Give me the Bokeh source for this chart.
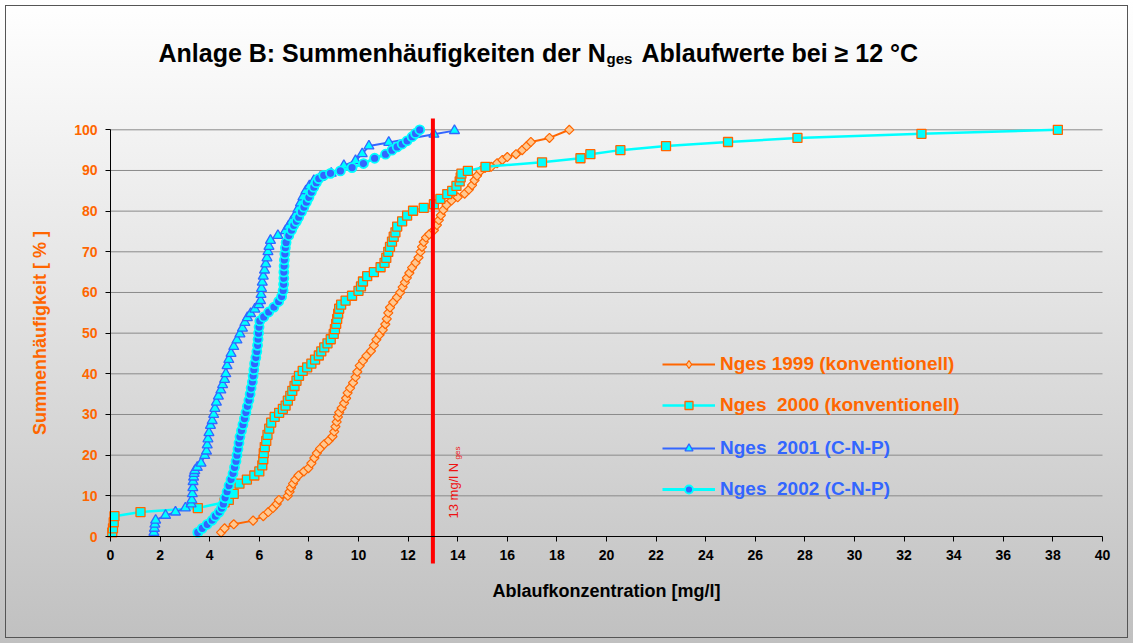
from bokeh.plotting import figure
from bokeh.models import Range1d, FixedTicker, Legend, LegendItem
from bokeh.core.properties import value
from bokeh.embed import file_html
from bokeh.resources import INLINE
import math

# ---------------- data ----------------
x_ticks = [0, 2, 4, 6, 8, 10, 12, 14, 16, 18, 20, 22, 24, 26, 28, 30, 32, 34, 36, 38, 40]
y_ticks = [0, 10, 20, 30, 40, 50, 60, 70, 80, 90, 100]
threshold = 13

x1999 = [4.46, 4.60, 4.97, 5.75, 6.16, 6.36, 6.55, 6.70, 6.79, 7.15, 7.22, 7.28, 7.36, 7.45, 7.58,
         7.80, 7.98, 8.10, 8.22, 8.32, 8.45, 8.62, 8.80, 8.95, 9.02, 9.07, 9.12, 9.17, 9.22, 9.32,
         9.42, 9.50, 9.56, 9.66, 9.78, 9.88, 9.95, 10.05, 10.18, 10.32, 10.50, 10.62, 10.72, 10.85,
         10.98, 11.08, 11.14, 11.20, 11.27, 11.40, 11.55, 11.68, 11.78, 11.87, 11.95, 12.05, 12.16,
         12.30, 12.42, 12.50, 12.56, 12.63, 12.72, 12.85, 13.04, 13.16, 13.24, 13.32, 13.42, 13.55,
         13.75, 14.00, 14.28, 14.45, 14.58, 14.68, 14.78, 14.92, 15.10, 15.35, 15.59, 15.80, 16.00,
         16.35, 16.60, 16.78, 16.95, 17.70, 18.50]
y1999 = [1, 2, 3, 3.9, 5, 6, 7, 8, 9, 10, 11, 12, 13, 14, 15,
         16, 16.8, 18, 19.3, 20.5, 21.6, 22.7, 23.6, 24.6, 25.8, 27, 28.2, 29.4, 30.5, 31.6,
         32.8, 34, 35.3, 36.5, 37.8, 39.2, 40.5, 42, 43.2, 44.4, 45.6, 47, 48.4, 49.6,
         50.8, 52.2, 53.5, 55, 56.3, 57.6, 58.8, 60, 61.3, 62.5, 63.6, 64.8, 66.1,
         67.3, 68.6, 70, 71.2, 72.4, 73.5, 74.3, 75.3, 76.6, 77.8, 79, 80.3, 81.5,
         82.6, 83.4, 84.3, 85.3, 86.4, 87.6, 88.7, 89.9, 90.6, 90.9, 91.8, 92.6, 93.3,
         94, 95, 96, 97, 98, 100]

x2000 = [0.07, 0.10, 0.13, 0.16, 1.21, 3.52, 4.60, 4.77, 4.97, 5.20, 5.50, 5.80, 6.00, 6.12, 6.16,
         6.18, 6.22, 6.28, 6.33, 6.40, 6.48, 6.62, 6.80, 6.95, 7.06, 7.15, 7.25, 7.33, 7.42, 7.50,
         7.60, 7.75, 7.93, 8.10, 8.25, 8.40, 8.50, 8.62, 8.75, 8.88, 9.00, 9.05, 9.10, 9.14, 9.18,
         9.22, 9.30, 9.48, 9.74, 10.00, 10.10, 10.18, 10.35, 10.62, 10.89, 11.05, 11.12, 11.20,
         11.27, 11.35, 11.42, 11.49, 11.56, 11.76, 11.96, 12.20, 12.63, 13.04, 13.30, 13.58, 13.78,
         13.95, 14.08, 14.12, 14.15, 14.41, 15.12, 17.40, 18.95, 19.35, 20.56, 22.40, 24.90, 27.70,
         32.70, 38.20]
y2000 = [1, 2, 3.5, 5, 6, 7, 8.4, 9, 10.5, 13, 14, 15, 16, 17.5, 19,
         20.5, 22, 23.5, 25, 26.5, 28, 29.4, 30.4, 31.4, 32.2, 33.4, 34.6, 35.8, 37, 38.3,
         39.5, 40.7, 41.6, 42.5, 43.5, 44.5, 45.5, 46.5, 47.5, 48.5, 49.8, 51, 52.3, 53.5, 54.8,
         56, 57, 58, 59.2, 60.4, 61.5, 62.7, 64, 65, 66.2, 67.3, 68.5, 70,
         71.2, 72.5, 73.7, 74.8, 76.2, 77.5, 78.9, 80.1, 80.8, 81.7, 83, 84.2, 85,
         86.2, 87.3, 88.3, 89.2, 89.9, 90.9, 92, 93, 94, 95, 96, 97, 98,
         99, 100]

x2001 = [1.75, 1.77, 1.79, 1.82, 2.22, 2.62, 3.02, 3.25, 3.28, 3.30, 3.32, 3.33, 3.35, 3.37, 3.40,
         3.50, 3.65, 3.80, 3.87, 3.90, 3.93, 3.97, 4.03, 4.10, 4.16, 4.21, 4.27, 4.35, 4.45, 4.52,
         4.60, 4.65, 4.70, 4.77, 4.86, 4.97, 5.10, 5.22, 5.32, 5.42, 5.52, 5.65, 5.82, 5.98, 6.05,
         6.07, 6.09, 6.12, 6.16, 6.21, 6.26, 6.31, 6.35, 6.39, 6.45, 6.75, 7.06, 7.18, 7.30, 7.45,
         7.56, 7.66, 7.76, 7.88, 8.02, 8.20, 8.45, 8.90, 9.41, 9.88, 10.15, 10.42, 11.22, 13.04,
         13.87]
y2001 = [1, 2, 3, 4, 5.2, 6, 7, 8, 9, 10.5, 12, 13.5, 14.6, 15.5, 16.2,
         17, 18, 19.9, 21, 22.5, 24, 25.5, 27.3, 28.5, 30, 31.5, 33, 34.5, 36, 37.3,
         38.6, 40, 42, 43.5, 45, 46.7, 48.3, 49.8, 51.2, 52.6, 53.8, 54.8, 55.9, 57, 58,
         59.5, 61, 62.5, 64, 65.5, 67, 68.5, 70, 71.3, 72.8, 74, 75.2, 76.3, 77.5, 79,
         80.5, 82, 83.5, 85, 86.2, 87.5, 88.3, 89.3, 91.2, 92.4, 94.1, 96, 96.9, 98.9,
         99.8]

x2002 = [3.52, 3.70, 3.90, 4.10, 4.23, 4.38, 4.48, 4.55, 4.62, 4.70, 4.78, 4.86, 4.94, 5.00, 5.06,
         5.10, 5.14, 5.18, 5.22, 5.28, 5.34, 5.40, 5.46, 5.52, 5.58, 5.63, 5.67, 5.72, 5.75, 5.78,
         5.81, 5.86, 5.90, 5.93, 5.95, 5.97, 5.99, 6.02, 6.18, 6.38, 6.59, 6.78, 6.90, 6.96, 6.98,
         6.99, 6.99, 7.00, 7.01, 7.03, 7.05, 7.08, 7.19, 7.30, 7.39, 7.50, 7.59, 7.70, 7.80, 7.90,
         8.00, 8.10, 8.20, 8.30, 8.40, 8.60, 8.87, 9.27, 9.74, 10.20, 10.65, 11.09, 11.35, 11.56,
         11.76, 11.96, 12.16, 12.30, 12.47]
y2002 = [1, 2, 3, 4, 5, 6, 7, 8, 9.5, 11, 12.5, 14, 15.5, 17, 18.5,
         20, 21.5, 23, 24.5, 26, 27.5, 29, 30.5, 32, 33.5, 35, 36.5, 38, 39.5, 41,
         42.5, 44, 45.5, 47, 48.5, 50, 51.5, 53, 54, 55.2, 56.4, 57.8, 59, 60.5, 62,
         63.5, 65, 66.5, 68, 69.5, 71, 72.3, 74, 75.3, 76.5, 77.5, 78.5, 79.8, 81, 82.2,
         83.4, 84.7, 85.9, 87, 88, 88.8, 89.3, 89.9, 90.7, 91.7, 93, 94, 95, 95.8,
         96.5, 97.3, 98.3, 99.1, 100]

labels = ["Nges 1999 (konventionell)", "Nges\u00a0 2000 (konventionell)",
          "Nges\u00a0 2001 (C-N-P)", "Nges\u00a0 2002 (C-N-P)"]

# ---------------- styling / geometry ----------------
FONT = "Liberation Sans"
ORANGE = "#ff6600"
BLUE = "#3366ff"
CYAN = "#00ffff"
PEACH = "#ffc890"
W, H = 1133, 643
PX_X0, PX_X40 = 110.0, 1102.0       # page px of x=0 and x=40
PY_Y0, PY_Y100 = 536.0, 129.3       # page px of y=0 and y=100
SX = (PX_X40 - PX_X0) / 40.0
SY = (PY_Y0 - PY_Y100) / 100.0


def X(px):
    return (px - PX_X0) / SX


def Y(py):
    return (PY_Y0 - py) / SY


p = figure(width=W, height=H, output_backend="svg", toolbar_location=None,
           x_range=Range1d(X(0), X(W)),
           y_range=Range1d(Y(H), Y(0)),
           min_border_left=0, min_border_right=0,
           min_border_top=0, min_border_bottom=0,
           background_fill_alpha=0, border_fill_alpha=0, outline_line_color=None,
           styles={"background-image": "linear-gradient(to bottom, #ffffff 0%, #e4e4e4 45%, #c0c0c0 100%)",
                   "outline": "1px solid #555555", "outline-offset": "-6px"})

p.xgrid.visible = False
p.ygrid.visible = False

# x axis at y = 0
xa = p.xaxis[0]
xa.fixed_location = 0
xa.bounds = (x_ticks[0], x_ticks[-1])
xa.ticker = FixedTicker(ticks=x_ticks)
xa.minor_tick_line_color = None
xa.major_tick_in = 0
xa.major_tick_out = 5
xa.major_label_standoff = 8
xa.axis_line_color = "black"
xa.major_tick_line_color = "black"
xa.major_label_text_font = FONT
xa.major_label_text_font_style = "bold"
xa.major_label_text_font_size = "14px"
xa.major_label_text_color = "black"
xa.axis_label = "Ablaufkonzentration [mg/l]"
xa.axis_label_text_font = FONT
xa.axis_label_text_font_style = "bold"
xa.axis_label_text_font_size = "18px"
xa.axis_label_text_color = "black"
xa.axis_label_standoff = 18

# y axis at x = 0
ya = p.yaxis[0]
ya.fixed_location = 0
ya.bounds = (y_ticks[0], y_ticks[-1])
ya.ticker = FixedTicker(ticks=y_ticks)
ya.minor_tick_line_color = None
ya.major_tick_in = 0
ya.major_tick_out = 5
ya.major_label_standoff = 8
ya.axis_line_color = "black"
ya.major_tick_line_color = "black"
ya.major_label_text_font = FONT
ya.major_label_text_font_style = "bold"
ya.major_label_text_font_size = "14px"
ya.major_label_text_color = ORANGE
ya.axis_label = "Summenhäufigkeit [ % ]"
ya.axis_label_text_font = FONT
ya.axis_label_text_font_style = "bold"
ya.axis_label_text_font_size = "18px"
ya.axis_label_text_color = ORANGE
ya.axis_label_standoff = 21

# horizontal gridlines
p.segment(x0=x_ticks[0], x1=x_ticks[-1], y0=y_ticks[1:], y1=y_ticks[1:],
          line_color="#8a8a8a", line_width=1)

# series
l1 = p.line(x1999, y1999, line_color=ORANGE, line_width=2)
m1 = p.scatter(x1999, y1999, marker="square", angle=math.pi / 4, size=6.5,
               fill_color=PEACH, line_color=ORANGE, line_width=1.2)
l2 = p.line(x2000, y2000, line_color=CYAN, line_width=2.5)
m2 = p.scatter(x2000, y2000, marker="square", size=9, fill_color=CYAN,
               line_color=ORANGE, line_width=1.3)
l3 = p.line(x2001, y2001, line_color=BLUE, line_width=2)
m3 = p.scatter(x2001, y2001, marker="triangle", size=10, fill_color=CYAN,
               line_color=BLUE, line_width=1.3)
l4 = p.line(x2002, y2002, line_color=CYAN, line_width=3)
m4 = p.scatter(x2002, y2002, marker="circle", size=9, fill_color=BLUE,
               line_color=CYAN, line_width=1.8)

# legend-only diamond glyph (the legend ignores a marker's angle); NaN => nothing on the plot
d1 = p.scatter(x=[float("nan")], y=[float("nan")], marker="diamond", size=12,
               fill_color=PEACH, line_color=ORANGE, line_width=1.2)

# threshold line
p.segment(x0=[threshold], x1=[threshold], y0=[Y(563)], y1=[Y(118)],
          line_color="#ff0000", line_width=4)
p.text(x=[X(453)], y=[Y(518)], text=["13 mg/l N"], angle=math.pi / 2,
       text_font=value(FONT), text_font_size="13px", text_color="#ee1111",
       text_align="left", text_baseline="alphabetic")
p.text(x=[X(457)], y=[Y(459)], text=["ges"], angle=math.pi / 2,
       text_font=value(FONT), text_font_size="8px", text_color="#ee1111",
       text_align="left", text_baseline="alphabetic")

# title
p.text(x=[X(158)], y=[Y(52.5)], text=["Anlage B: Summenhäufigkeiten der N"],
       text_font=value(FONT), text_font_style="bold", text_font_size="25px",
       text_color="black", text_align="left", text_baseline="alphabetic")
p.text(x=[X(606)], y=[Y(57.5)], text=["ges"],
       text_font=value(FONT), text_font_style="bold", text_font_size="15px",
       text_color="black", text_align="left", text_baseline="alphabetic")
p.text(x=[X(641)], y=[Y(52.5)], text=["Ablaufwerte bei \u2265 12 \u00b0C"],
       text_font=value(FONT), text_font_style="bold", text_font_size="25px",
       text_color="black", text_align="left", text_baseline="alphabetic")


def make_legend(items, color, loc):
    lg = Legend(items=items, location=loc, orientation="vertical",
                background_fill_alpha=0, border_line_color=None,
                padding=0, margin=0, spacing=19,
                glyph_width=53, glyph_height=20, label_height=20, label_standoff=5,
                label_text_font=FONT, label_text_font_style="bold",
                label_text_font_size="19px", label_text_color=color)
    p.add_layout(lg)
    return lg


make_legend([LegendItem(label=labels[0], renderers=[l1, d1]),
             LegendItem(label=labels[1], renderers=[l2, m2])],
            ORANGE, (662, H - 415.5))
make_legend([LegendItem(label=labels[2], renderers=[l3, m3]),
             LegendItem(label=labels[3], renderers=[l4, m4])],
            BLUE, (662, H - 499.5))

open("out.html", "w").write(file_html(p, INLINE))
